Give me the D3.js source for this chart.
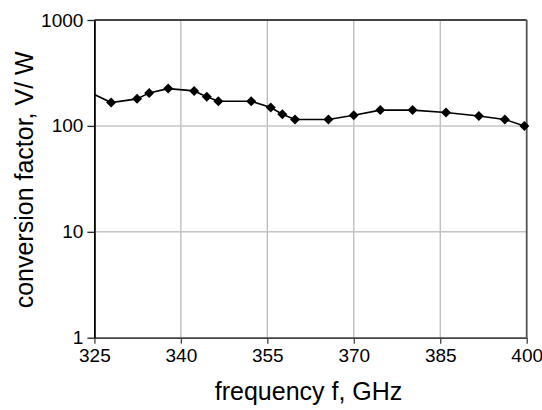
<!DOCTYPE html>
<html><head><meta charset="utf-8">
<script src="https://cdn.jsdelivr.net/npm/d3@7"></script>
<style>
html,body{margin:0;padding:0;background:#fff;}
text{font-family:"Liberation Sans",Arial,sans-serif;fill:#000;}
</style></head>
<body>
<svg id="chart" width="542" height="410"></svg>
<script>
const frequency = [325, 327.9, 332.4, 334.5, 337.8, 342.3, 344.5, 346.5, 352.2, 355.6, 357.6, 359.8, 365.6, 370.0, 374.6, 380.2, 386.0, 391.7, 396.2, 399.6];
const conversion = [198, 166, 180, 205, 225, 214, 188, 171, 171, 149, 129, 115, 115, 126, 141, 141, 134, 124, 115, 100];
const xTicks = [325, 340, 355, 370, 385, 400];
const yTicks = [1, 10, 100, 1000];
const xTitle = "frequency f, GHz";
const yTitle = "conversion factor, V/ W";

const svg = d3.select("#chart");
const L = 94.4, R = 526.7, T = 20, B = 337.7;
const x = d3.scaleLinear().domain([325, 400]).range([L, R]);
const y = d3.scaleLog().domain([1, 1000]).range([B, T]);

// grid
svg.append("g").selectAll("line.v").data(xTicks.slice(1, -1)).join("line")
  .attr("x1", d => x(d)).attr("x2", d => x(d)).attr("y1", T).attr("y2", B)
  .attr("stroke", "#b4b4b4").attr("stroke-width", 1.2);
svg.append("g").selectAll("line.h").data(yTicks.slice(1, -1)).join("line")
  .attr("y1", d => y(d)).attr("y2", d => y(d)).attr("x1", L).attr("x2", R)
  .attr("stroke", "#c4c4c4").attr("stroke-width", 1.5);

// frame top/right
svg.append("line").attr("x1", L).attr("x2", R).attr("y1", T).attr("y2", T).attr("stroke", "#444").attr("stroke-width", 1.8);
svg.append("line").attr("x1", R).attr("x2", R).attr("y1", T).attr("y2", B).attr("stroke", "#555").attr("stroke-width", 1.8);

// axes
const xAxis = svg.append("g").attr("transform", `translate(0,${B})`)
  .call(d3.axisBottom(x).tickValues(xTicks).tickFormat(d3.format("d")).tickSizeInner(6).tickSizeOuter(0).tickPadding(5));
xAxis.select(".domain").attr("stroke", "#444").attr("stroke-width", 1.8);
xAxis.selectAll(".tick line").attr("stroke", "#444").attr("stroke-width", 1.3);
xAxis.selectAll("text").attr("font-size", 19).attr("font-family", "Liberation Sans, Arial, sans-serif").attr("fill", "#000");

const yAxis = svg.append("g").attr("transform", `translate(${L},0)`)
  .call(d3.axisLeft(y).tickValues(yTicks).tickFormat(d3.format("d")).tickSizeInner(7).tickSizeOuter(0).tickPadding(4));
yAxis.select(".domain").attr("stroke", "#000").attr("stroke-width", 1.8);
yAxis.selectAll(".tick line").attr("stroke", "#222").attr("stroke-width", 1.3);
yAxis.selectAll("text").attr("font-size", 19).attr("font-family", "Liberation Sans, Arial, sans-serif").attr("fill", "#000");

// data
const pts = frequency.map((f, i) => ({f, v: conversion[i]}));
svg.append("path").datum(pts)
  .attr("d", d3.line().x(d => x(d.f)).y(d => y(d.v)))
  .attr("fill", "none").attr("stroke", "#000").attr("stroke-width", 1.6);
const diamond = d3.symbol().type(d3.symbolSquare).size(50);
svg.append("g").selectAll("path").data(pts.filter(d => d.f > 325)).join("path")
  .attr("d", diamond)
  .attr("transform", d => `translate(${x(d.f)},${y(d.v)}) rotate(45)`)
  .attr("fill", "#000");

// titles
svg.append("text").attr("x", (L + R) / 2 - 2).attr("y", 400).attr("text-anchor", "middle")
  .attr("font-size", 25).text(xTitle);
svg.append("text").attr("transform", `translate(33,${(T + B) / 2 + 1}) rotate(-90)`).attr("text-anchor", "middle")
  .attr("font-size", 25).text(yTitle);
</script>
</body></html>
